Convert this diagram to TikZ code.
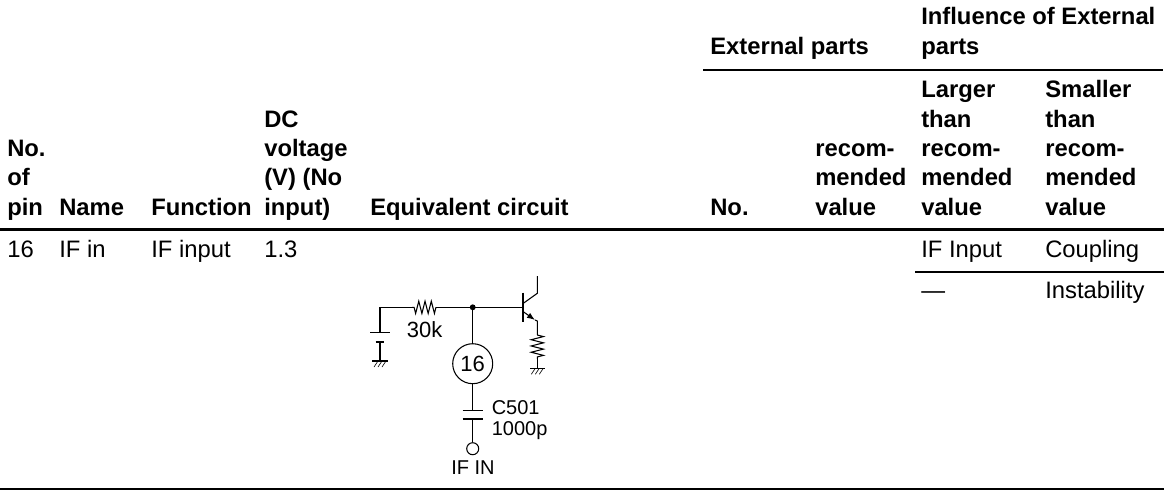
\documentclass[tikz,border=0pt]{standalone}
\usepackage{fontspec}
\setmainfont{Liberation Sans}
\usetikzlibrary{decorations.pathmorphing,arrows.meta}
\tikzset{head/.style={anchor=base west,inner sep=0pt,align=left,font=\fontsize{17.85}{22.3}\selectfont\bfseries}}
\tikzset{cell/.style={anchor=base west,inner sep=0pt,font=\fontsize{17.85}{22.3}\selectfont}}
\tikzset{lab/.style={inner sep=0pt,font=\fontsize{15}{16}\selectfont}}
\tikzset{rule/.style={line width=2.2pt}}
\tikzset{wire/.style={line width=0.8pt}}
\tikzset{plate/.style={line width=1.1pt}}
\tikzset{res/.style={wire,decorate,decoration={zigzag,segment length=4.7pt,amplitude=4.6pt}}}
\tikzset{pin/.style={circle,draw,line width=0.8pt,inner sep=0pt}}
\tikzset{hatch/.pic={\foreach \i in {-4,0,4} \draw[line width=0.45pt] (\i+2,0) -- (\i-2,6);}}
\begin{document}
\begin{tikzpicture}[x=0.75pt,y=-0.75pt]
    \useasboundingbox (0,0) rectangle (1173,490);
    % table heading
    \node[head] (nopin) at (7,215) {pin};
    \node[head] (noof) at (7,185) {of};
    \node[head] (nono) at (7,156) {No.};
    \node[head] (name) at (59,215) {Name};
    \node[head] (func) at (151,215) {Function};
    \node[head] (dc1) at (264,215) {input)};
    \node[head] (dc2) at (264,185) {(V) (No};
    \node[head] (dc3) at (264,156) {voltage};
    \node[head] (dc4) at (264,127) {DC};
    \node[head] (equiv) at (370,215) {Equivalent circuit};
    \node[head] (extno) at (710,215) {No.};
    \node[head] (rec1) at (815,215) {value};
    \node[head] (rec2) at (815,185) {mended};
    \node[head] (rec3) at (815,156) {recom-};
    \node[head] (ext) at (710,54) {External parts};
    \node[head] (inf1) at (921,54) {parts};
    \node[head] (inf2) at (921,24) {Influence of External};
    \foreach \x/\w/\n in {921/Larger/lg,1045/Smaller/sm} {
      \node[head] (\n1) at (\x,97) {\w};
      \node[head] (\n2) at (\x,127) {than};
      \node[head] (\n3) at (\x,156) {recom-};
      \node[head] (\n4) at (\x,185) {mended};
      \node[head] (\n5) at (\x,215) {value};
    }
    % table body
    \node[cell] (pinno) at (7,257) {16};
    \node[cell] (pinname) at (59,257) {IF in};
    \node[cell] (pinfunc) at (151,257) {IF input};
    \node[cell] (pinvolt) at (264,257) {1.3};
    \node[cell] (larger1) at (921,257) {IF Input};
    \node[cell] (smaller1) at (1045,257) {Coupling};
    \node[cell] (larger2) at (921,298) {---};
    \node[cell] (smaller2) at (1045,298) {Instability};
    \draw[rule] (703,70) -- (1163,70);
    \draw[rule] (0,229.5) -- (1164,229.5);
    \draw[line width=1.5pt] (915,272) -- (1164,272);
    \draw[line width=1pt] (0,489) -- (1164,489);
    % circuit
    \node[pin,minimum size=30pt,font=\fontsize{16.5}{16.5}\selectfont] (p16) at (472.7,363.7) {16};
    \node[pin,minimum size=9pt] (in) at (472.7,448.7) {};
    \coordinate (j) at (472.7,307.3);
    \fill (j) circle (2.2pt);
    \coordinate (ra) at (412,307.3);
    \coordinate (rb) at (436,307.3);
    \coordinate (c1) at (380,332.7);
    \coordinate (c2) at (380,341.7);
    \coordinate (g1) at (380,361);
    \draw[wire] (j) -- (rb);
    \draw[res] (rb) -- (ra);
    \draw[wire] (ra) -| (c1);
    \draw[plate] (370,332.7) -- (390,332.7);
    \draw[line width=1.7pt] (375.7,341.7) -- (384.3,341.7);
    \draw[wire] (c2) -- (g1);
    \draw[plate] (372.3,361) -- (387.7,361);
    \pic at (380,361) {hatch};
    \node[lab,anchor=base west,font=\fontsize{16.5}{16.5}\selectfont] (r30k) at (406.7,337) {30k};
    \draw[wire] (j) -- (p16);
    \coordinate (c3) at (472.7,410.7);
    \coordinate (c4) at (472.7,419);
    \draw[wire] (p16) -- (c3);
    \draw[wire] (c4) -- (in);
    \draw[plate] (462.7,410.7) -- (482.7,410.7);
    \draw[plate] (462.7,419) -- (482.7,419);
    \node[lab,anchor=base west] (c501) at (491.5,414) {C501};
    \node[lab,anchor=base west] (c1000) at (491.5,435) {1000p};
    \node[lab,anchor=base] (ifin) at (473,474) {IF IN};
    % transistor
    \coordinate (b) at (523.3,307.3);
    \coordinate (e) at (537.3,321);
    \coordinate (r1) at (537.3,335);
    \coordinate (r2) at (537.3,359);
    \coordinate (g2) at (537.3,368.3);
    \draw[wire] (j) -- (b);
    \draw[line width=1.7pt] (523.3,292.7) -- (523.3,321.7);
    \draw[wire] (523.3,303.3) -- (537.3,293.3) -- (537.3,276);
    \draw[wire,-{Latex[length=6pt,width=4.5pt]}] (523.3,311.7) -- (535,320);
    \draw[wire] (535,320) -- (e) -- (r1);
    \draw[res] (r1) -- (r2);
    \draw[wire] (r2) -- (g2);
    \draw[plate] (530,368.3) -- (545,368.3);
    \pic at (537.3,368.3) {hatch};
\end{tikzpicture}
\end{document}
